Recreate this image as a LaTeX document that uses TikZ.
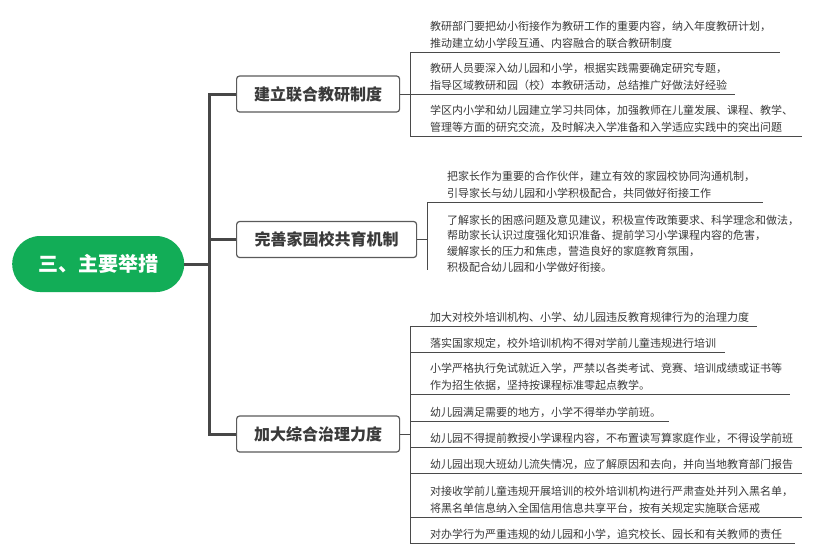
\documentclass[tikz,border=0pt]{standalone}
\usepackage{fontspec}
\newfontfamily\cjk{Noto Sans CJK SC}
\definecolor{rootgreen}{HTML}{12AD57}
\definecolor{trunkgray}{HTML}{474747}
\definecolor{boxgray}{HTML}{5A5A5A}
\definecolor{txtgray}{HTML}{3A3A3A}
\definecolor{linegray}{HTML}{4A4A4A}
\tikzset{
  rootbox/.style={fill=rootgreen, rounded corners=28pt, minimum width=172pt, minimum height=56pt,
    inner sep=0pt, text=white, font=\cjk\bfseries\fontsize{20}{24}\selectfont, anchor=west},
  branchbox/.style={draw=boxgray, line width=1.2pt, fill=white, rounded corners=3pt,
    minimum height=36pt, inner sep=0pt, text=txtgray, font=\cjk\bfseries\fontsize{16}{19}\selectfont, anchor=west},
  itemtext/.style={inner sep=0pt, anchor=south west, align=left, text=txtgray,
    font=\cjk\fontsize{11}{17}\selectfont},
  trunk/.style={draw=trunkgray, line width=3pt},
  thinline/.style={draw=linegray, line width=0.8pt},
}
\begin{document}
\begin{tikzpicture}[x=1pt,y=-1pt]
\useasboundingbox (0,0) rectangle (817,547);
\fill[white] (0,0) rectangle (817,547);

% root and branches
\node[rootbox] (root) at (12,264) {三、主要举措};
\node[branchbox, minimum width=163pt] (b1) at (236,94) {建立联合教研制度};
\node[branchbox, minimum width=180pt] (b2) at (236,239.5) {完善家园校共育机制};
\node[branchbox, minimum width=163pt] (b3) at (236,434) {加大综合治理力度};

\coordinate (tk) at (209,264);
\draw[trunk] (root.east) -- (tk);
\draw[trunk] (b1.west) -| (tk) |- (b3.west);
\draw[trunk] (tk |- b2.west) -- (b2.west);

% group 1
\coordinate (g1t) at (410,52);
\coordinate (g1b) at (410,136);
\draw[thinline] (g1t) -- (g1b);
\draw[thinline] (b1.east) -- (b1.east -| g1t);
\node[itemtext] (a1) at (430,48.5) {教研部门要把幼小衔接作为教研工作的重要内容，纳入年度教研计划，\\推动建立幼小学段互通、内容融合的联合教研制度};
\node[itemtext] (a2) at (430,90.5) {教研人员要深入幼儿园和小学，根据实践需要确定研究专题，\\指导区域教研和园（校）本教研活动，总结推广好做法好经验};
\node[itemtext] (a3) at (430,132.5) {学区内小学和幼儿园建立学习共同体，加强教师在儿童发展、课程、教学、\\管理等方面的研究交流，及时解决入学准备和入学适应实践中的突出问题};
\draw[thinline] (g1t) -- (780,52);
\draw[thinline] (410,94) -- (735,94);
\draw[thinline] (g1b) -- (802,136);

% group 2
\coordinate (g2t) at (427,202);
\coordinate (g2b) at (427,270);
\draw[thinline] (g2t) -- (g2b);
\draw[thinline] (b2.east) -- (b2.east -| g2t);
\node[itemtext] (c1) at (447,198.5) {把家长作为重要的合作伙伴，建立有效的家园校协同沟通机制，\\引导家长与幼儿园和小学积极配合，共同做好衔接工作};
\node[itemtext, font=\cjk\fontsize{11}{15.7}\selectfont] (c2) at (447,272.5) {了解家长的困惑问题及意见建议，积极宣传政策要求、科学理念和做法，\\帮助家长认识过度强化知识准备、提前学习小学课程内容的危害，\\缓解家长的压力和焦虑，营造良好的家庭教育氛围，\\积极配合幼儿园和小学做好衔接。};
\draw[thinline] (g2t) -- (763,202);

% group 3
\coordinate (g3t) at (410,326);
\coordinate (g3b) at (410,543);
\draw[thinline] (g3t) -- (g3b);
\draw[thinline] (b3.east) -- (b3.east -| g3t);
\node[itemtext] (d1) at (430,322.5) {加大对校外培训机构、小学、幼儿园违反教育规律行为的治理力度};
\node[itemtext] (d2) at (430,348.5) {落实国家规定，校外培训机构不得对学前儿童违规进行培训};
\node[itemtext] (d3) at (430,390.5) {小学严格执行免试就近入学，严禁以各类考试、竞赛、培训成绩或证书等\\作为招生依据，坚持按课程标准零起点教学。};
\node[itemtext] (d4) at (430,417.5) {幼儿园满足需要的地方，小学不得举办学前班。};
\node[itemtext] (d5) at (430,443.5) {幼儿园不得提前教授小学课程内容，不布置读写算家庭作业，不得设学前班};
\node[itemtext] (d6) at (430,469.5) {幼儿园出现大班幼儿流失情况，应了解原因和去向，并向当地教育部门报告};
\node[itemtext] (d7) at (430,513.5) {对接收学前儿童违规开展培训的校外培训机构进行严肃查处并列入黑名单，\\将黑名单信息纳入全国信用信息共享平台，按有关规定实施联合惩戒};
\node[itemtext] (d8) at (430,539.5) {对办学行为严重违规的幼儿园和小学，追究校长、园长和有关教师的责任};
\draw[thinline] (g3t) -- (757,326);
\draw[thinline] (410,352) -- (725,352);
\draw[thinline] (410,394) -- (790,394);
\draw[thinline] (410,421) -- (669,421);
\draw[thinline] (410,447) -- (802,447);
\draw[thinline] (410,473) -- (802,473);
\draw[thinline] (410,517) -- (802,517);
\draw[thinline] (g3b) -- (795,543);
\end{tikzpicture}
\end{document}
